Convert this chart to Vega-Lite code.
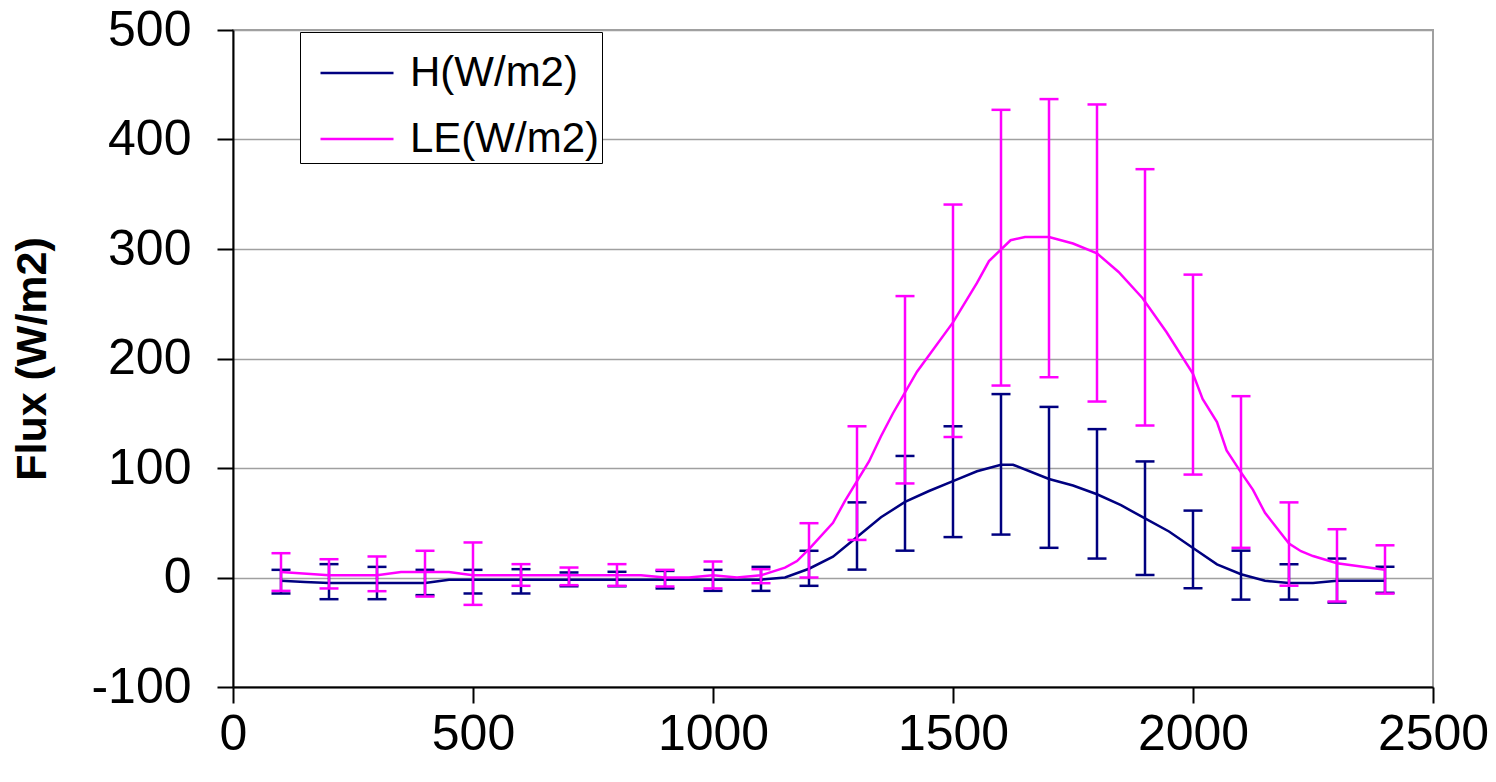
{
  "$schema": "https://vega.github.io/schema/vega-lite/v6.json",
  "width": 1200,
  "height": 657,
  "autosize": {"type": "none"},
  "padding": {"left": 233, "top": 30, "right": 63, "bottom": 95},
  "background": "white",
  "datasets": {
    "lines": [
      {"x": 100, "v": -3, "s": "H(W/m2)"}, {"x": 150, "v": -4, "s": "H(W/m2)"}, {"x": 200, "v": -5, "s": "H(W/m2)"}, {"x": 250, "v": -5, "s": "H(W/m2)"},
      {"x": 300, "v": -5, "s": "H(W/m2)"}, {"x": 350, "v": -5, "s": "H(W/m2)"}, {"x": 400, "v": -5, "s": "H(W/m2)"}, {"x": 450, "v": -2, "s": "H(W/m2)"},
      {"x": 500, "v": -2, "s": "H(W/m2)"}, {"x": 550, "v": -2, "s": "H(W/m2)"}, {"x": 600, "v": -2, "s": "H(W/m2)"}, {"x": 650, "v": -2, "s": "H(W/m2)"},
      {"x": 700, "v": -2, "s": "H(W/m2)"}, {"x": 750, "v": -2, "s": "H(W/m2)"}, {"x": 800, "v": -2, "s": "H(W/m2)"}, {"x": 850, "v": -2, "s": "H(W/m2)"},
      {"x": 900, "v": -2, "s": "H(W/m2)"}, {"x": 950, "v": -2, "s": "H(W/m2)"}, {"x": 1000, "v": -2, "s": "H(W/m2)"}, {"x": 1050, "v": -2, "s": "H(W/m2)"},
      {"x": 1100, "v": -2, "s": "H(W/m2)"}, {"x": 1150, "v": 0, "s": "H(W/m2)"}, {"x": 1200, "v": 8, "s": "H(W/m2)"}, {"x": 1250, "v": 19, "s": "H(W/m2)"},
      {"x": 1300, "v": 37, "s": "H(W/m2)"}, {"x": 1350, "v": 55, "s": "H(W/m2)"}, {"x": 1400, "v": 69, "s": "H(W/m2)"}, {"x": 1450, "v": 79, "s": "H(W/m2)"},
      {"x": 1500, "v": 88, "s": "H(W/m2)"}, {"x": 1550, "v": 97, "s": "H(W/m2)"}, {"x": 1600, "v": 103, "s": "H(W/m2)"}, {"x": 1625, "v": 103, "s": "H(W/m2)"},
      {"x": 1700, "v": 90, "s": "H(W/m2)"}, {"x": 1750, "v": 84, "s": "H(W/m2)"}, {"x": 1800, "v": 76, "s": "H(W/m2)"}, {"x": 1850, "v": 66, "s": "H(W/m2)"},
      {"x": 1900, "v": 54, "s": "H(W/m2)"}, {"x": 1950, "v": 42, "s": "H(W/m2)"}, {"x": 2000, "v": 27, "s": "H(W/m2)"}, {"x": 2050, "v": 12, "s": "H(W/m2)"},
      {"x": 2100, "v": 3, "s": "H(W/m2)"}, {"x": 2150, "v": -3, "s": "H(W/m2)"}, {"x": 2200, "v": -5, "s": "H(W/m2)"}, {"x": 2250, "v": -5, "s": "H(W/m2)"},
      {"x": 2300, "v": -3, "s": "H(W/m2)"}, {"x": 2350, "v": -3, "s": "H(W/m2)"}, {"x": 2400, "v": -3, "s": "H(W/m2)"},
      {"x": 100, "v": 5, "s": "LE(W/m2)"}, {"x": 200, "v": 2, "s": "LE(W/m2)"}, {"x": 300, "v": 2, "s": "LE(W/m2)"}, {"x": 350, "v": 5, "s": "LE(W/m2)"},
      {"x": 450, "v": 5, "s": "LE(W/m2)"}, {"x": 500, "v": 2, "s": "LE(W/m2)"}, {"x": 600, "v": 2, "s": "LE(W/m2)"}, {"x": 700, "v": 2, "s": "LE(W/m2)"},
      {"x": 850, "v": 2, "s": "LE(W/m2)"}, {"x": 900, "v": 0, "s": "LE(W/m2)"}, {"x": 950, "v": 0, "s": "LE(W/m2)"}, {"x": 1000, "v": 2, "s": "LE(W/m2)"},
      {"x": 1050, "v": 0, "s": "LE(W/m2)"}, {"x": 1100, "v": 2, "s": "LE(W/m2)"}, {"x": 1150, "v": 9, "s": "LE(W/m2)"}, {"x": 1175, "v": 15, "s": "LE(W/m2)"},
      {"x": 1200, "v": 26, "s": "LE(W/m2)"}, {"x": 1250, "v": 50, "s": "LE(W/m2)"}, {"x": 1275, "v": 70, "s": "LE(W/m2)"}, {"x": 1325, "v": 106, "s": "LE(W/m2)"},
      {"x": 1350, "v": 129, "s": "LE(W/m2)"}, {"x": 1375, "v": 150, "s": "LE(W/m2)"}, {"x": 1425, "v": 188, "s": "LE(W/m2)"}, {"x": 1500, "v": 233, "s": "LE(W/m2)"},
      {"x": 1550, "v": 269, "s": "LE(W/m2)"}, {"x": 1575, "v": 289, "s": "LE(W/m2)"}, {"x": 1620, "v": 308, "s": "LE(W/m2)"}, {"x": 1650, "v": 311, "s": "LE(W/m2)"},
      {"x": 1700, "v": 311, "s": "LE(W/m2)"}, {"x": 1750, "v": 305, "s": "LE(W/m2)"}, {"x": 1800, "v": 296, "s": "LE(W/m2)"}, {"x": 1845, "v": 279, "s": "LE(W/m2)"},
      {"x": 1895, "v": 255, "s": "LE(W/m2)"}, {"x": 1945, "v": 224, "s": "LE(W/m2)"}, {"x": 2000, "v": 186, "s": "LE(W/m2)"}, {"x": 2020, "v": 163, "s": "LE(W/m2)"},
      {"x": 2050, "v": 142, "s": "LE(W/m2)"}, {"x": 2070, "v": 116, "s": "LE(W/m2)"}, {"x": 2100, "v": 96, "s": "LE(W/m2)"}, {"x": 2125, "v": 80, "s": "LE(W/m2)"},
      {"x": 2150, "v": 59, "s": "LE(W/m2)"}, {"x": 2200, "v": 31, "s": "LE(W/m2)"}, {"x": 2225, "v": 24, "s": "LE(W/m2)"}, {"x": 2250, "v": 19.6, "s": "LE(W/m2)"},
      {"x": 2300, "v": 13, "s": "LE(W/m2)"}, {"x": 2400, "v": 7, "s": "LE(W/m2)"}
    ],
    "errs": [
      {"x": 100, "lo": -14.6, "hi": 7, "s": "H(W/m2)"}, {"x": 200, "lo": -19.8, "hi": 12.2, "s": "H(W/m2)"}, {"x": 300, "lo": -19.8, "hi": 9.7, "s": "H(W/m2)"},
      {"x": 400, "lo": -16.1, "hi": 7, "s": "H(W/m2)"}, {"x": 500, "lo": -14.6, "hi": 7, "s": "H(W/m2)"}, {"x": 600, "lo": -14.6, "hi": 7.6, "s": "H(W/m2)"},
      {"x": 700, "lo": -8, "hi": 4.6, "s": "H(W/m2)"}, {"x": 800, "lo": -8, "hi": 5.2, "s": "H(W/m2)"}, {"x": 900, "lo": -10, "hi": 6, "s": "H(W/m2)"},
      {"x": 1000, "lo": -12.2, "hi": 7, "s": "H(W/m2)"}, {"x": 1100, "lo": -12.2, "hi": 9.7, "s": "H(W/m2)"}, {"x": 1200, "lo": -7.6, "hi": 24.4, "s": "H(W/m2)"},
      {"x": 1300, "lo": 7.2, "hi": 68.6, "s": "H(W/m2)"}, {"x": 1400, "lo": 24.5, "hi": 111, "s": "H(W/m2)"}, {"x": 1500, "lo": 36.9, "hi": 138.1, "s": "H(W/m2)"},
      {"x": 1600, "lo": 39.2, "hi": 167.5, "s": "H(W/m2)"}, {"x": 1700, "lo": 27.1, "hi": 155.8, "s": "H(W/m2)"}, {"x": 1800, "lo": 17.3, "hi": 135.5, "s": "H(W/m2)"},
      {"x": 1900, "lo": 2.3, "hi": 106, "s": "H(W/m2)"}, {"x": 2000, "lo": -9.8, "hi": 61.1, "s": "H(W/m2)"}, {"x": 2100, "lo": -20.2, "hi": 24.5, "s": "H(W/m2)"},
      {"x": 2200, "lo": -20.2, "hi": 12.1, "s": "H(W/m2)"}, {"x": 2300, "lo": -22.9, "hi": 17.3, "s": "H(W/m2)"}, {"x": 2400, "lo": -14, "hi": 9.8, "s": "H(W/m2)"},
      {"x": 100, "lo": -12.2, "hi": 22.2, "s": "LE(W/m2)"}, {"x": 200, "lo": -10, "hi": 16.7, "s": "LE(W/m2)"}, {"x": 300, "lo": -12.5, "hi": 19.2, "s": "LE(W/m2)"},
      {"x": 400, "lo": -17.4, "hi": 24.4, "s": "LE(W/m2)"}, {"x": 500, "lo": -25, "hi": 32, "s": "LE(W/m2)"}, {"x": 600, "lo": -7.6, "hi": 12.2, "s": "LE(W/m2)"},
      {"x": 700, "lo": -7, "hi": 9.1, "s": "LE(W/m2)"}, {"x": 800, "lo": -7.6, "hi": 12.2, "s": "LE(W/m2)"}, {"x": 900, "lo": -8.2, "hi": 7, "s": "LE(W/m2)"},
      {"x": 1000, "lo": -10, "hi": 14.6, "s": "LE(W/m2)"}, {"x": 1100, "lo": -5.2, "hi": 7.6, "s": "LE(W/m2)"}, {"x": 1200, "lo": 0, "hi": 49.6, "s": "LE(W/m2)"},
      {"x": 1300, "lo": 34.3, "hi": 138.1, "s": "LE(W/m2)"}, {"x": 1400, "lo": 85.9, "hi": 257, "s": "LE(W/m2)"}, {"x": 1500, "lo": 128.3, "hi": 340.6, "s": "LE(W/m2)"},
      {"x": 1600, "lo": 175.3, "hi": 427.1, "s": "LE(W/m2)"}, {"x": 1700, "lo": 182.9, "hi": 436.9, "s": "LE(W/m2)"}, {"x": 1800, "lo": 160.7, "hi": 432, "s": "LE(W/m2)"},
      {"x": 1900, "lo": 138.8, "hi": 372.9, "s": "LE(W/m2)"}, {"x": 2000, "lo": 94, "hi": 276.6, "s": "LE(W/m2)"}, {"x": 2100, "lo": 27.1, "hi": 165.6, "s": "LE(W/m2)"},
      {"x": 2200, "lo": -7.5, "hi": 68.6, "s": "LE(W/m2)"}, {"x": 2300, "lo": -21.9, "hi": 44.1, "s": "LE(W/m2)"}, {"x": 2400, "lo": -14.7, "hi": 29.4, "s": "LE(W/m2)"}
    ]
  },
  "encoding": {
    "x": {
      "field": "x", "type": "quantitative",
      "scale": {"domain": [0, 2500], "nice": false, "zero": false},
      "axis": {"values": [0, 500, 1000, 1500, 2000, 2500], "format": "d", "title": null, "grid": false}
    },
    "color": {
      "field": "s", "type": "nominal",
      "scale": {"domain": ["H(W/m2)", "LE(W/m2)"], "range": ["#000080", "#FF00FF"]},
      "legend": {
        "title": null, "orient": "none", "legendX": 67, "legendY": 2,
        "direction": "vertical", "symbolType": "stroke", "symbolStrokeWidth": 2.5,
        "symbolSize": 5329, "symbolOffset": 16, "labelFontSize": 42, "labelFont": "Liberation Sans", "labelColor": "black",
        "labelOffset": 15, "rowPadding": 7, "padding": 3,
        "strokeColor": "black", "fillColor": "white", "labelLimit": 400
      }
    }
  },
  "layer": [
    {
      "data": {"name": "errs"},
      "transform": [{"filter": "datum.s === 'H(W/m2)'"}],
      "mark": {"type": "rule", "strokeWidth": 2.5},
      "encoding": {"y": {"field": "lo", "type": "quantitative"}, "y2": {"field": "hi"}}
    },
    {
      "data": {"name": "errs"},
      "transform": [{"filter": "datum.s === 'H(W/m2)'"}],
      "mark": {"type": "tick", "orient": "horizontal", "size": 19, "thickness": 2.5, "opacity": 1},
      "encoding": {"y": {"field": "lo", "type": "quantitative"}}
    },
    {
      "data": {"name": "errs"},
      "transform": [{"filter": "datum.s === 'H(W/m2)'"}],
      "mark": {"type": "tick", "orient": "horizontal", "size": 19, "thickness": 2.5, "opacity": 1},
      "encoding": {"y": {"field": "hi", "type": "quantitative"}}
    },
    {
      "data": {"name": "lines"},
      "transform": [{"filter": "datum.s === 'H(W/m2)'"}],
      "mark": {"type": "line", "strokeWidth": 2.5},
      "encoding": {"y": {"field": "v", "type": "quantitative"}}
    },
    {
      "data": {"name": "errs"},
      "transform": [{"filter": "datum.s === 'LE(W/m2)'"}],
      "mark": {"type": "rule", "strokeWidth": 2.5},
      "encoding": {"y": {"field": "lo", "type": "quantitative"}, "y2": {"field": "hi"}}
    },
    {
      "data": {"name": "errs"},
      "transform": [{"filter": "datum.s === 'LE(W/m2)'"}],
      "mark": {"type": "tick", "orient": "horizontal", "size": 19, "thickness": 2.5, "opacity": 1},
      "encoding": {"y": {"field": "lo", "type": "quantitative"}}
    },
    {
      "data": {"name": "errs"},
      "transform": [{"filter": "datum.s === 'LE(W/m2)'"}],
      "mark": {"type": "tick", "orient": "horizontal", "size": 19, "thickness": 2.5, "opacity": 1},
      "encoding": {"y": {"field": "hi", "type": "quantitative"}}
    },
    {
      "data": {"name": "lines"},
      "transform": [{"filter": "datum.s === 'LE(W/m2)'"}],
      "mark": {"type": "line", "strokeWidth": 2.5},
      "encoding": {
        "y": {
          "field": "v", "type": "quantitative",
          "scale": {"domain": [-100, 500], "nice": false, "zero": false},
          "axis": {"values": [-100, 0, 100, 200, 300, 400, 500], "labelExpr": "'' + datum.value", "title": "Flux (W/m2)", "grid": true}
        }
      }
    }
  ],
  "resolve": {"scale": {"y": "shared"}},
  "config": {
    "font": "Liberation Sans",
    "view": {"stroke": "#a0a0a0", "strokeWidth": 2},
    "axis": {
      "labelFont": "Liberation Sans", "labelFontSize": 50, "labelColor": "black",
      "domainColor": "black", "domainWidth": 2, "tickColor": "black", "tickWidth": 2, "tickSize": 16,
      "gridColor": "#a0a0a0", "gridWidth": 1.5, "labelFlush": false, "labelOverlap": false
    },
    "axisY": {
      "labelPadding": 26, "titleFont": "Liberation Sans", "titleFontSize": 43, "titleFontWeight": "bold",
      "titleColor": "black", "titlePadding": 36
    },
    "axisX": {"labelPadding": 6}
  }
}
